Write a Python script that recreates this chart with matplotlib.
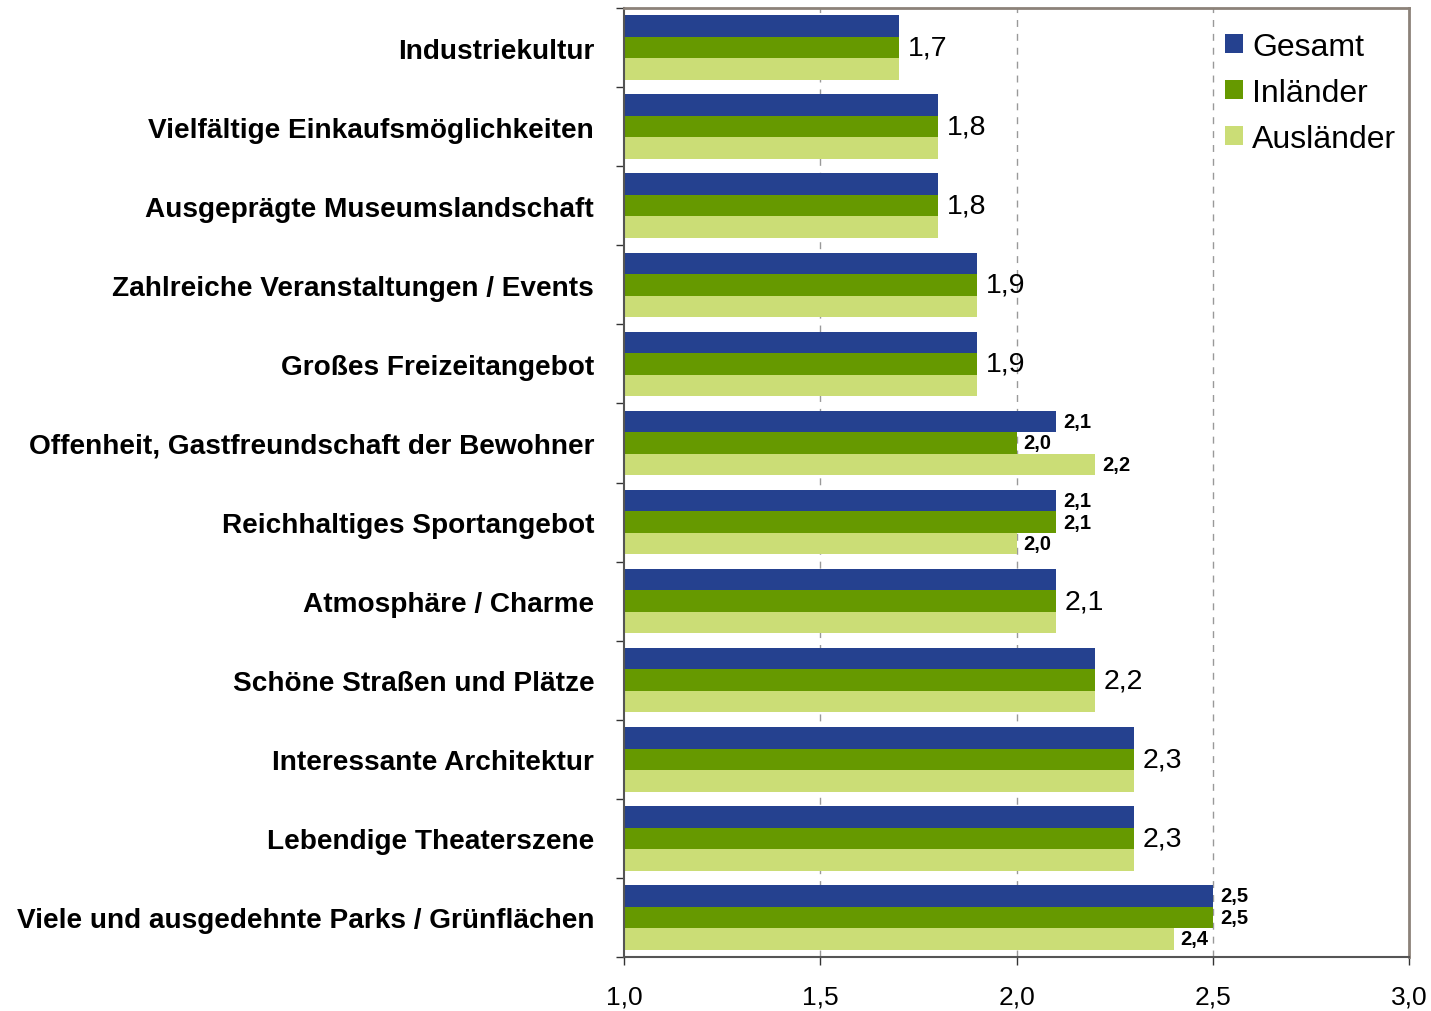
import matplotlib
matplotlib.use("Agg")
import matplotlib.pyplot as plt
import numpy as np

plt.rcParams['font.family'] = ['Liberation Sans', 'DejaVu Sans']

categories = [
    "Industriekultur",
    "Vielfältige Einkaufsmöglichkeiten",
    "Ausgeprägte Museumslandschaft",
    "Zahlreiche Veranstaltungen / Events",
    "Großes Freizeitangebot",
    "Offenheit, Gastfreundschaft der Bewohner",
    "Reichhaltiges Sportangebot",
    "Atmosphäre / Charme",
    "Schöne Straßen und Plätze",
    "Interessante Architektur",
    "Lebendige Theaterszene",
    "Viele und ausgedehnte Parks / Grünflächen",
]
gesamt =    [1.7, 1.8, 1.8, 1.9, 1.9, 2.1, 2.1, 2.1, 2.2, 2.3, 2.3, 2.5]
inlaender = [1.7, 1.8, 1.8, 1.9, 1.9, 2.0, 2.1, 2.1, 2.2, 2.3, 2.3, 2.5]
auslaender = [1.7, 1.8, 1.8, 1.9, 1.9, 2.2, 2.0, 2.1, 2.2, 2.3, 2.3, 2.4]
series_names = ["Gesamt", "Inländer", "Ausländer"]
colors = ["#25418F", "#669900", "#CBDD76"]
xticks = [1.0, 1.5, 2.0, 2.5, 3.0]
xticklabels = ["1,0", "1,5", "2,0", "2,5", "3,0"]

fig = plt.figure(figsize=(14.31, 10.12), dpi=100)
ax = fig.add_axes([624/1431, 1 - 958/1012, (1409-624)/1431, (958-9)/1012])

n = len(categories)
y = np.arange(n)
h = 0.272
series = [gesamt, inlaender, auslaender]
offsets = [-h, 0, h]
for s, off, c, name in zip(series, offsets, colors, series_names):
    ax.barh(y + off, np.array(s) - 1.0, left=1.0, height=h, color=c, label=name, zorder=2)

def fmt(v):
    return f"{v:.1f}".replace(".", ",")

for i in range(n):
    vals = [gesamt[i], inlaender[i], auslaender[i]]
    if len(set(vals)) == 1:
        ax.text(vals[1] + 0.022, y[i], fmt(vals[1]), va='center', ha='left', fontsize=20.5, zorder=3)
    else:
        for v, off in zip(vals, offsets):
            ax.text(v + 0.018, y[i] + off, fmt(v), va='center', ha='left', fontsize=14.5,
                    fontweight='bold', zorder=3)

ax.set_xlim(1.0, 3.0)
ax.set_ylim(n - 0.5, -0.5)
ax.set_xticks(xticks)
ax.set_xticklabels(xticklabels, fontsize=19)
ax.tick_params(axis='x', length=6, width=1, direction='out', pad=14, color='#333333')

ax.set_yticks(y)
ax.set_yticklabels(categories, fontsize=20.2, fontweight='bold')
ax.tick_params(axis='y', length=0, pad=21.5)
ax.set_yticks(np.arange(-0.5, n, 1.0), minor=True)
ax.tick_params(axis='y', which='minor', length=6, width=1, direction='out', color='#333333')

for xv in [1.5, 2.0, 2.5]:
    ax.axvline(xv, color='#999999', linestyle=(0, (5, 5)), linewidth=1, zorder=1)

for side in ['top', 'right']:
    ax.spines[side].set_color('#8C8279')
    ax.spines[side].set_linewidth(2)
for side in ['left', 'bottom']:
    ax.spines[side].set_color('#555555')
    ax.spines[side].set_linewidth(1.5)

leg = ax.legend(loc='upper right', bbox_to_anchor=(1.0, 0.988), frameon=False, fontsize=23,
                handlelength=0.55, handleheight=0.55, handletextpad=0.3, labelspacing=0.5,
                borderaxespad=0.0)

fig.savefig("out.png", dpi=100)
